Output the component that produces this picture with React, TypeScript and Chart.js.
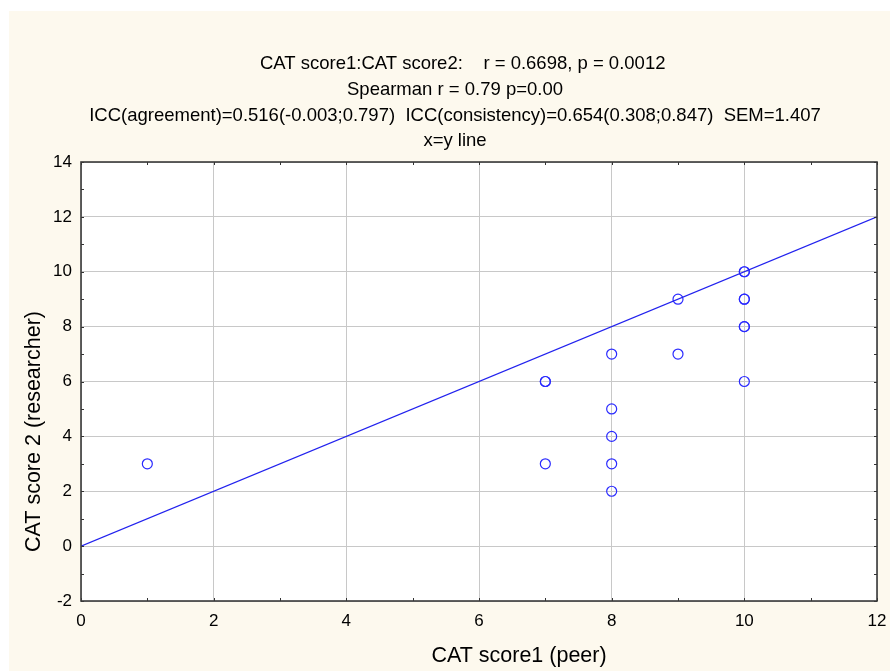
import React, { useEffect, useRef } from "react";
import { Chart, registerables } from "chart.js";

Chart.register(...registerables);

const peerScores = [1, 7, 7, 7, 8, 8, 8, 8, 8, 9, 9, 10, 10, 10, 10, 10, 10, 10];
const researcherScores = [3, 6, 6, 3, 7, 5, 4, 3, 2, 9, 7, 10, 10, 9, 9, 8, 8, 6];
const identityLineX = [0, 12];
const titleLines = [
  "   CAT score1:CAT score2:    r = 0.6698, p = 0.0012",
  "Spearman r = 0.79 p=0.00",
  "ICC(agreement)=0.516(-0.003;0.797)  ICC(consistency)=0.654(0.308;0.847)  SEM=1.407",
  "x=y line",
];
const xAxisTitle = "CAT score1 (peer)";
const yAxisTitle = "CAT score 2 (researcher)";

const FONT = "'Liberation Sans', Arial, Helvetica, sans-serif";

const chartDecor = {
  id: "chartDecor",
  beforeDraw(chart: any) {
    const { ctx, chartArea } = chart;
    ctx.save();
    ctx.fillStyle = "#fdf9ee";
    ctx.fillRect(0, 0, chart.width, chart.height);
    ctx.fillStyle = "#ffffff";
    ctx.fillRect(chartArea.left, chartArea.top, chartArea.right - chartArea.left, chartArea.bottom - chartArea.top);
    ctx.restore();
  },
  afterDatasetsDraw(chart: any) {
    const { ctx, chartArea, scales } = chart;
    const { left, right, top, bottom } = chartArea;
    ctx.save();
    ctx.strokeStyle = "#333333";
    ctx.lineWidth = 1;
    const len = 3;
    ctx.beginPath();
    for (let v = scales.x.min; v <= scales.x.max; v += 1) {
      const px = Math.round(scales.x.getPixelForValue(v)) + 0.5;
      ctx.moveTo(px, bottom);
      ctx.lineTo(px, bottom - len);
      ctx.moveTo(px, top);
      ctx.lineTo(px, top + len);
    }
    for (let v = scales.y.min; v <= scales.y.max; v += 1) {
      const py = Math.round(scales.y.getPixelForValue(v)) + 0.5;
      ctx.moveTo(left, py);
      ctx.lineTo(left + len, py);
      ctx.moveTo(right, py);
      ctx.lineTo(right - len, py);
    }
    ctx.stroke();
    ctx.strokeStyle = "#3a3a3a";
    ctx.lineWidth = 1.6;
    ctx.strokeRect(left, top, right - left, bottom - top);
    ctx.restore();
  },
  afterDraw(chart: any) {
    const { ctx, chartArea } = chart;
    ctx.save();
    ctx.fillStyle = "#000";
    ctx.font = `21.5px ${FONT}`;
    ctx.textAlign = "center";
    ctx.textBaseline = "middle";
    ctx.fillText(xAxisTitle, (chartArea.left + chartArea.right) / 2 + 40, chart.height - 15);
    ctx.translate(25, (chartArea.top + chartArea.bottom) / 2 + 50);
    ctx.rotate(-Math.PI / 2);
    ctx.fillText(yAxisTitle, 0, 0);
    ctx.restore();
  },
};

export default function App() {
  const canvasRef = useRef<HTMLCanvasElement | null>(null);

  useEffect(() => {
    if (!canvasRef.current) return;
    const points = peerScores.map((x, i) => ({ x, y: researcherScores[i] }));
    const line = identityLineX.map((x) => ({ x, y: x }));
    const zeroPad = (s: any) => {
      s.paddingLeft = 0;
      s.paddingRight = 0;
      s.paddingTop = 0;
      s.paddingBottom = 0;
    };
    const chart = new Chart(canvasRef.current, {
      type: "scatter",
      data: {
        datasets: [
          {
            type: "line",
            data: line,
            borderColor: "#2222ee",
            borderWidth: 1.2,
            pointRadius: 0,
            fill: false,
          },
          {
            type: "scatter",
            data: points,
            borderColor: "#2a2aff",
            backgroundColor: "rgba(0,0,0,0)",
            borderWidth: 1.2,
            pointRadius: 5,
          },
        ],
      },
      options: {
        responsive: false,
        animation: false,
        layout: { padding: { left: 24, right: 13, top: 0, bottom: 0 } },
        plugins: {
          legend: { display: false },
          tooltip: { enabled: false },
          title: {
            display: true,
            text: titleLines,
            color: "#000",
            font: { family: FONT, size: 18.5, weight: "normal", lineHeight: 25.8 / 18.5 },
            padding: { top: 40, bottom: 7.8 },
          },
        },
        scales: {
          x: {
            type: "linear",
            min: 0,
            max: 12,
            afterFit: (s: any) => {
              s.height = 70;
              zeroPad(s);
            },
            ticks: { stepSize: 2, color: "#000", padding: 10, font: { family: FONT, size: 17 } },
            grid: { color: "#c8c8c8", drawTicks: false },
            border: { display: false },
          },
          y: {
            type: "linear",
            min: -2,
            max: 14,
            afterFit: (s: any) => {
              s.width = 48;
              zeroPad(s);
            },
            ticks: { stepSize: 2, color: "#000", padding: 9, font: { family: FONT, size: 17 } },
            grid: { color: "#c8c8c8", drawTicks: false },
            border: { display: false },
          },
        },
      },
      plugins: [chartDecor],
    } as any);
    return () => chart.destroy();
  }, []);

  return (
    <div style={{ position: "absolute", left: 9, top: 11, width: 881, height: 660 }}>
      <canvas ref={canvasRef} width={881} height={660} style={{ display: "block" }} />
    </div>
  );
}
